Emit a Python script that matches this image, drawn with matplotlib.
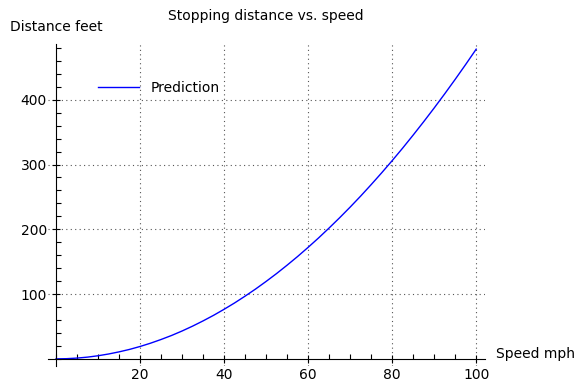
import matplotlib
matplotlib.use('Agg')
import matplotlib.pyplot as plt
from matplotlib.ticker import MultipleLocator

# speed (mph) and predicted stopping distance (feet)
speed = [0, 2.5, 5, 7.5, 10, 12.5, 15, 17.5, 20, 22.5, 25, 27.5, 30, 32.5, 35,
         37.5, 40, 42.5, 45, 47.5, 50, 52.5, 55, 57.5, 60, 62.5, 65, 67.5, 70,
         72.5, 75, 77.5, 80, 82.5, 85, 87.5, 90, 92.5, 95, 97.5, 100]
distance = [0, 0.3, 1.2, 2.7, 4.8, 7.5, 10.8, 14.6, 19.1, 24.2, 29.9, 36.1,
            43.0, 50.5, 58.6, 67.2, 76.5, 86.3, 96.8, 107.8, 119.5, 131.7,
            144.6, 158.0, 172.1, 186.7, 202.0, 217.8, 234.2, 251.2, 268.9,
            287.1, 305.9, 325.3, 345.4, 366.0, 387.2, 409.0, 431.4, 454.4, 478.0]

fig = plt.figure(figsize=(5.83, 3.85), dpi=100)
ax = fig.add_axes([48 / 583, 1 - 366 / 385, 437 / 583, 322 / 385])

ax.plot(speed, distance, color='blue', linewidth=1, label='Prediction')

ax.set_xlim(-1.9, 102.1)
ax.set_ylim(-11, 486)

# sage-like axes crossing at origin
ax.spines['top'].set_visible(False)
ax.spines['right'].set_visible(False)
ax.spines['left'].set_position(('data', 0))
ax.spines['bottom'].set_position(('data', 0))

ax.xaxis.set_minor_locator(MultipleLocator(5))
ax.yaxis.set_minor_locator(MultipleLocator(20))
ax.set_xticks([20, 40, 60, 80, 100])
ax.set_yticks([100, 200, 300, 400])
ax.tick_params(which='major', direction='inout', length=6, width=0.8, labelsize=10)
ax.tick_params(which='minor', direction='in', length=3.5, width=0.8)

ax.grid(True, which='major', linestyle=(0, (1, 3)), color='#555555', linewidth=0.8)

ax.legend(loc='upper left', frameon=False, fontsize=10,
          bbox_to_anchor=(0.085, 0.925), handlelength=3.0)

fig.text(266 / 583, 1 - 16 / 385, 'Stopping distance vs. speed',
         ha='center', va='center', fontsize=10)
fig.text(10 / 583, 1 - 27 / 385, 'Distance feet', ha='left', va='center', fontsize=10)
fig.text(496 / 583, 1 - 354 / 385, 'Speed mph', ha='left', va='center', fontsize=10)

plt.savefig('out.png', dpi=100)
